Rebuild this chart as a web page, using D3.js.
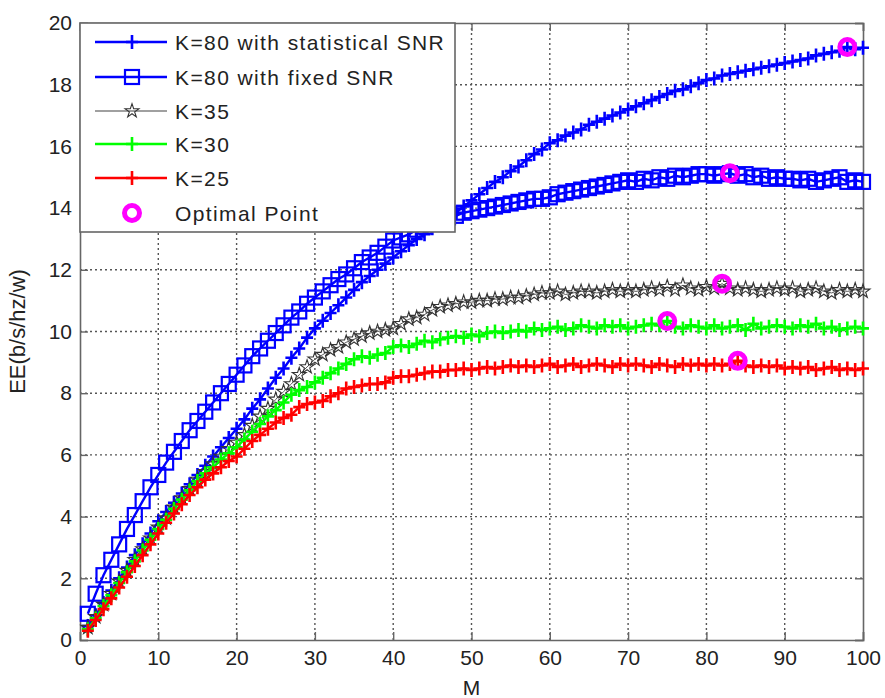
<!DOCTYPE html>
<html>
<head>
<meta charset="utf-8">
<script src="https://cdn.jsdelivr.net/npm/d3@7"></script>
<style>
  body { margin: 0; background: #fff; }
  svg text { font-family: "Liberation Sans", Arial, sans-serif; fill: #222; }
  .grid line { stroke: #555; stroke-width: 1.4; stroke-dasharray: 2,3; }
</style>
</head>
<body>
<svg id="chart" width="885" height="698"></svg>
<script>
// M = 1..100
const M_VALUES = d3.range(1, 101);

const K80_STAT = [
  0.45, 0.8, 1.2, 1.6, 2.0, 2.35, 2.75, 3.1, 3.45, 3.85,
  4.15, 4.45, 4.75, 5.05, 5.35, 5.65, 5.95, 6.25, 6.55, 6.85,
  7.15, 7.5, 7.8, 8.15, 8.5, 8.8, 9.15, 9.45, 9.8, 10.1,
  10.35, 10.6, 10.85, 11.1, 11.35, 11.6, 11.8, 12.0, 12.2, 12.4,
  12.6, 12.8, 13.0, 13.15, 13.35, 13.5, 13.7, 13.85, 14.05, 14.25,
  14.45, 14.65, 14.85, 15.0, 15.2, 15.35, 15.55, 15.75, 15.9, 16.1,
  16.2, 16.35, 16.45, 16.55, 16.7, 16.8, 16.9, 17.0, 17.1, 17.2,
  17.3, 17.4, 17.5, 17.6, 17.7, 17.8, 17.85, 17.95, 18.05, 18.15,
  18.2, 18.3, 18.35, 18.4, 18.45, 18.5, 18.55, 18.6, 18.65, 18.7,
  18.75, 18.8, 18.85, 18.95, 19.0, 19.05, 19.1, 19.22, 19.15, 19.2
];

const K80_FIXED = [
  0.85, 1.5, 2.1, 2.6, 3.1, 3.6, 4.05, 4.5, 4.95, 5.35,
  5.75, 6.1, 6.45, 6.8, 7.1, 7.4, 7.7, 8.0, 8.3, 8.6,
  8.9, 9.2, 9.45, 9.7, 9.95, 10.2, 10.45, 10.65, 10.9, 11.1,
  11.3, 11.5, 11.7, 11.85, 12.05, 12.25, 12.4, 12.55, 12.75, 12.95,
  13.05, 13.15, 13.3, 13.4, 13.5, 13.6, 13.7, 13.75, 13.85, 13.9,
  13.95, 14.0, 14.05, 14.1, 14.15, 14.2, 14.25, 14.3, 14.3, 14.35,
  14.45, 14.5, 14.55, 14.6, 14.65, 14.7, 14.75, 14.8, 14.85, 14.9,
  14.85, 14.95, 14.9, 15.0, 14.95, 15.05, 15.0, 15.05, 15.1, 15.1,
  15.05, 15.1, 15.13, 15.05, 15.1, 15.0, 15.05, 14.95, 15.0, 14.95,
  14.95, 14.9, 14.95, 14.85, 14.9, 14.95, 15.0, 14.85, 14.9, 14.85
];

const K35 = [
  0.4, 0.75, 1.15, 1.5, 1.9, 2.25, 2.6, 2.95, 3.3, 3.65,
  3.95, 4.3, 4.6, 4.9, 5.2, 5.45, 5.7, 5.95, 6.2, 6.4,
  6.65, 6.95, 7.25, 7.5, 7.8, 8.05, 8.3, 8.6, 8.85, 9.1,
  9.25, 9.4, 9.5, 9.65, 9.75, 9.85, 9.95, 10.0, 10.05, 10.1,
  10.25, 10.4, 10.45, 10.55, 10.7, 10.8, 10.85, 10.9, 10.95, 10.95,
  11.0, 11.0, 11.05, 11.05, 11.1, 11.1, 11.15, 11.2, 11.25, 11.25,
  11.3, 11.2, 11.25, 11.3, 11.3, 11.25, 11.3, 11.35, 11.3, 11.35,
  11.3, 11.35, 11.4, 11.35, 11.45, 11.35, 11.5, 11.4, 11.35, 11.45,
  11.4, 11.55, 11.4, 11.35, 11.4, 11.35, 11.3, 11.35, 11.4, 11.35,
  11.4, 11.3, 11.35, 11.4, 11.3, 11.25, 11.35, 11.3, 11.35, 11.3
];

const K30 = [
  0.35, 0.7, 1.1, 1.45, 1.85, 2.2, 2.55, 2.9, 3.25, 3.6,
  3.9, 4.25, 4.55, 4.85, 5.15, 5.4, 5.6, 5.85, 6.05, 6.25,
  6.5, 6.75, 7.0, 7.25, 7.45, 7.7, 7.95, 8.1, 8.2, 8.35,
  8.5, 8.65, 8.8, 8.95, 9.1, 9.2, 9.15, 9.25, 9.3, 9.5,
  9.55, 9.5, 9.6, 9.7, 9.65, 9.75, 9.8, 9.85, 9.8, 9.9,
  9.85, 9.95, 10.0, 9.95, 10.0, 10.05, 10.0, 10.1, 10.05, 10.1,
  10.15, 10.05, 10.1, 10.2, 10.15, 10.1, 10.2, 10.15, 10.2, 10.1,
  10.15, 10.2, 10.25, 10.2, 10.34, 10.15, 10.1, 10.2, 10.15, 10.1,
  10.2, 10.1, 10.15, 10.2, 10.05, 10.25, 10.1, 10.15, 10.2, 10.15,
  10.1, 10.2, 10.15, 10.25, 10.1, 10.15, 10.05, 10.1, 10.15, 10.1
];

const K25 = [
  0.3, 0.65, 1.0, 1.35, 1.7, 2.05, 2.4, 2.75, 3.1, 3.45,
  3.8, 4.1, 4.4, 4.7, 4.95, 5.2, 5.4, 5.6, 5.8, 5.95,
  6.2, 6.45, 6.65, 6.85, 7.05, 7.2, 7.3, 7.55, 7.65, 7.7,
  7.75, 7.9, 8.0, 8.15, 8.2, 8.25, 8.3, 8.3, 8.35, 8.5,
  8.55, 8.55, 8.6, 8.65, 8.7, 8.7, 8.75, 8.75, 8.8, 8.75,
  8.8, 8.85, 8.8, 8.85, 8.9, 8.85, 8.9, 8.85, 8.9, 8.95,
  8.85, 8.9, 8.95, 8.85, 8.9, 8.95, 8.9, 8.85, 8.95, 8.9,
  8.95, 8.9, 8.85, 8.95, 8.9, 8.85, 8.95, 8.9, 8.95, 8.9,
  8.95, 8.9, 8.95, 9.05, 8.9, 8.85, 8.9, 8.85, 8.9, 8.8,
  8.85, 8.8, 8.85, 8.75, 8.8, 8.85, 8.75, 8.8, 8.75, 8.8
];

// optimal points (M, EE)
const OPT_M = [98, 83, 82, 75, 84];
const OPT_EE = [19.22, 15.13, 11.55, 10.34, 9.05];

const X_TICKS = d3.range(0, 101, 10);
const Y_TICKS = d3.range(0, 21, 2);

const SERIES_NAMES = [
  "K=80 with statistical SNR",
  "K=80 with fixed SNR",
  "K=35",
  "K=30",
  "K=25"
];
const SERIES_VALUES = [K80_STAT, K80_FIXED, K35, K30, K25];
const SERIES_COLORS = ["#0000ff", "#0000ff", "#555555", "#00ff00", "#ff0000"];
const SERIES_MARKERS = ["plus", "square", "star", "plus", "plus"];

const svg = d3.select("#chart");
const plot = { left: 80, top: 23, right: 863, bottom: 640 };

const x = d3.scaleLinear().domain([0, 100]).range([plot.left, plot.right]);
const y = d3.scaleLinear().domain([0, 20]).range([plot.bottom, plot.top]);

// grid
const grid = svg.append("g").attr("class", "grid");
grid.selectAll(".gx")
  .data(X_TICKS.slice(1, -1))
  .enter().append("line")
  .attr("x1", d => x(d)).attr("x2", d => x(d))
  .attr("y1", plot.top).attr("y2", plot.bottom);
grid.selectAll(".gy")
  .data(Y_TICKS.slice(1, -1))
  .enter().append("line")
  .attr("x1", plot.left).attr("x2", plot.right)
  .attr("y1", d => y(d)).attr("y2", d => y(d));

// axes (matlab style: ticks inside, on all four sides)
const tickLen = 8;
const axisColor = "#666";
const axes = svg.append("g");

const bottomAxis = axes.append("g")
  .attr("transform", `translate(0,${plot.bottom})`)
  .call(d3.axisBottom(x).tickValues(X_TICKS).tickSize(-tickLen).tickPadding(tickLen + 2));
const leftAxis = axes.append("g")
  .attr("transform", `translate(${plot.left},0)`)
  .call(d3.axisLeft(y).tickValues(Y_TICKS).tickSize(-tickLen).tickPadding(8));
const topAxis = axes.append("g")
  .attr("transform", `translate(0,${plot.top})`)
  .call(d3.axisTop(x).tickValues(X_TICKS).tickSize(-tickLen).tickFormat(""));
const rightAxis = axes.append("g")
  .attr("transform", `translate(${plot.right},0)`)
  .call(d3.axisRight(y).tickValues(Y_TICKS).tickSize(-tickLen).tickFormat(""));

[bottomAxis, leftAxis, topAxis, rightAxis].forEach(a => {
  a.select(".domain").attr("stroke", axisColor).attr("stroke-width", 1.6);
  a.selectAll(".tick line").attr("stroke", axisColor).attr("stroke-width", 1.4);
  a.selectAll(".tick text")
    .attr("font-size", 21)
    .attr("font-family", "'Liberation Sans', Arial, sans-serif")
    .attr("fill", "#222");
});

// axis titles
svg.append("text")
  .attr("x", (plot.left + plot.right) / 2)
  .attr("y", 695)
  .attr("text-anchor", "middle")
  .attr("font-size", 21)
  .text("M");

svg.append("text")
  .attr("transform", `translate(25,${(plot.top + plot.bottom) / 2}) rotate(-90)`)
  .attr("text-anchor", "middle")
  .attr("font-size", 22)
  .text("EE(b/s/hz/w)");

// marker shapes
function drawMarker(sel, type, color) {
  if (type === "plus") {
    sel.append("path")
      .attr("d", "M-6,0H6M0,-7V7")
      .attr("stroke", color)
      .attr("stroke-width", 2.6)
      .attr("fill", "none");
  } else if (type === "square") {
    sel.append("rect")
      .attr("x", -7).attr("y", -7)
      .attr("width", 14).attr("height", 14)
      .attr("stroke", color)
      .attr("stroke-width", 2.2)
      .attr("fill", "none");
  } else if (type === "star") {
    sel.append("path")
      .attr("d", d3.symbol().type(d3.symbolStar).size(60)())
      .attr("stroke", "#333")
      .attr("stroke-width", 1.1)
      .attr("fill", "none");
  }
}

const line = d3.line()
  .x((d, i) => x(M_VALUES[i]))
  .y(d => y(d));

const seriesLayer = svg.append("g");
SERIES_VALUES.forEach((vals, si) => {
  const g = seriesLayer.append("g");
  g.append("path")
    .datum(vals)
    .attr("d", line)
    .attr("fill", "none")
    .attr("stroke", SERIES_COLORS[si])
    .attr("stroke-width", si === 2 ? 1 : 2.4);

  g.selectAll(".mk")
    .data(vals)
    .enter().append("g")
    .attr("transform", (d, i) => `translate(${x(M_VALUES[i])},${y(d)})`)
    .each(function () {
      drawMarker(d3.select(this), SERIES_MARKERS[si], SERIES_COLORS[si]);
    });
});

// optimal points
svg.append("g").selectAll("circle")
  .data(OPT_M)
  .enter().append("circle")
  .attr("cx", d => x(d))
  .attr("cy", (d, i) => y(OPT_EE[i]))
  .attr("r", 7.5)
  .attr("fill", "none")
  .attr("stroke", "#ff00ff")
  .attr("stroke-width", 5);

// legend
const legend = svg.append("g");
legend.append("rect")
  .attr("x", plot.left)
  .attr("y", plot.top)
  .attr("width", 375)
  .attr("height", 209)
  .attr("fill", "#fff")
  .attr("stroke", axisColor)
  .attr("stroke-width", 1.6);

const rowY = [42, 77, 111, 144, 178, 213];
const legendNames = SERIES_NAMES.concat(["Optimal Point"]);

legendNames.forEach((name, i) => {
  const row = legend.append("g").attr("transform", `translate(0,${rowY[i]})`);
  if (i < SERIES_NAMES.length) {
    row.append("line")
      .attr("x1", 95).attr("x2", 167)
      .attr("stroke", i === 2 ? "#808080" : SERIES_COLORS[i])
      .attr("stroke-width", i === 2 ? 1.5 : 2.6);
    drawMarker(row.append("g").attr("transform", "translate(132,0)"), SERIES_MARKERS[i], SERIES_COLORS[i]);
  } else {
    row.append("circle")
      .attr("cx", 132)
      .attr("r", 7.5)
      .attr("fill", "none")
      .attr("stroke", "#ff00ff")
      .attr("stroke-width", 5);
  }
  row.append("text")
    .attr("x", 175)
    .attr("dy", "0.36em")
    .attr("font-size", 21)
    .attr("letter-spacing", 1.4)
    .text(name);
});
</script>
</body>
</html>
